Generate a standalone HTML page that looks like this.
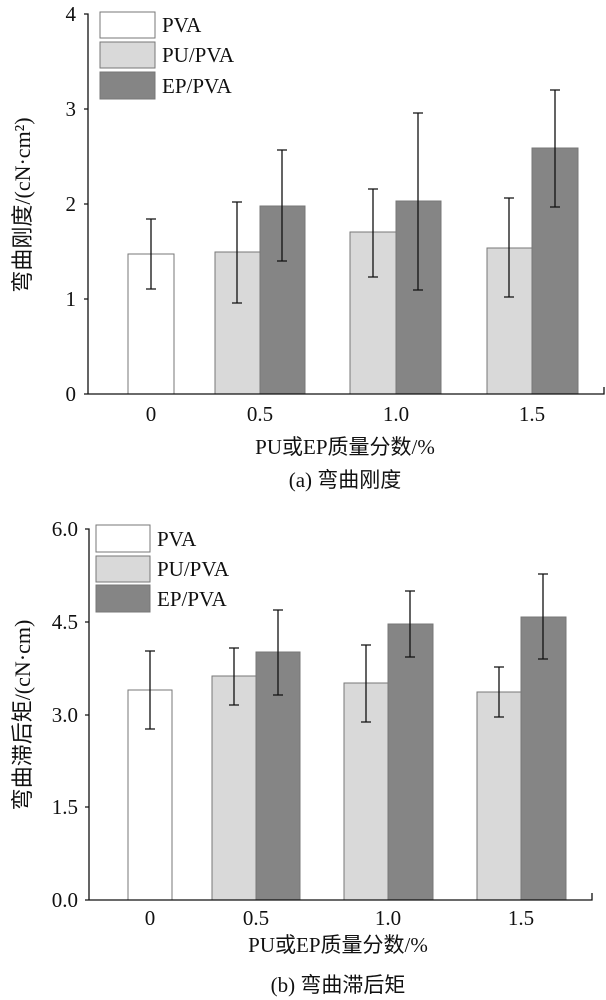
<!DOCTYPE html><html><head><style>body{margin:0;background:#fff}svg{display:block}text{font-family:"Liberation Serif","Noto Sans CJK SC",serif;fill:#111}</style></head><body>
<svg width="606" height="1000" viewBox="0 0 606 1000" xmlns="http://www.w3.org/2000/svg">
<g stroke="#777" stroke-width="1">
<rect x="128" y="254" width="46" height="140" fill="#fff"/>
<rect x="215" y="252" width="45" height="142" fill="#d9d9d9"/>
<rect x="260" y="206" width="45" height="188" fill="#858585"/>
<rect x="350" y="232" width="46" height="162" fill="#d9d9d9"/>
<rect x="396" y="201" width="45" height="193" fill="#858585"/>
<rect x="487" y="248" width="45" height="146" fill="#d9d9d9"/>
<rect x="532" y="148" width="46" height="246" fill="#858585"/>
<rect x="100" y="12" width="55" height="26" fill="#fff"/>
<rect x="100" y="42" width="55" height="26" fill="#d9d9d9"/>
<rect x="100" y="72" width="55" height="27" fill="#858585"/>
<rect x="128" y="690" width="44" height="210" fill="#fff"/>
<rect x="212" y="676" width="44" height="224" fill="#d9d9d9"/>
<rect x="256" y="652" width="44" height="248" fill="#858585"/>
<rect x="344" y="683" width="44" height="217" fill="#d9d9d9"/>
<rect x="388" y="624" width="45" height="276" fill="#858585"/>
<rect x="477" y="692" width="44" height="208" fill="#d9d9d9"/>
<rect x="521" y="617" width="45" height="283" fill="#858585"/>
<rect x="96" y="525" width="54" height="27" fill="#fff"/>
<rect x="96" y="556" width="54" height="26" fill="#d9d9d9"/>
<rect x="96" y="585" width="54" height="27" fill="#858585"/>
</g>
<g stroke="#111" stroke-width="1.3" fill="none">
<path d="M151 219V289M146 219h10M146 289h10"/>
<path d="M237 202V303M232 202h10M232 303h10"/>
<path d="M282 150V261M277 150h10M277 261h10"/>
<path d="M373 189V277M368 189h10M368 277h10"/>
<path d="M418 113V290M413 113h10M413 290h10"/>
<path d="M509 198V297M504 198h10M504 297h10"/>
<path d="M555 90V207M550 90h10M550 207h10"/>
<path d="M150 651V729M145 651h10M145 729h10"/>
<path d="M234 648V705M229 648h10M229 705h10"/>
<path d="M278 610V695M273 610h10M273 695h10"/>
<path d="M366 645V722M361 645h10M361 722h10"/>
<path d="M410 591V657M405 591h10M405 657h10"/>
<path d="M499 667V717M494 667h10M494 717h10"/>
<path d="M543 574V659M538 574h10M538 659h10"/>
<path d="M84 14H88V394H604V387M84 109h4M84 204h4M84 299h4M84 394h4"/>
<path d="M85 529H89V900H592V893M85 622h4M85 715h4M85 807h4M85 900h4"/>
</g>
<g font-size="21" text-anchor="end">
<text x="76" y="21">4</text><text x="76" y="116">3</text><text x="76" y="211">2</text><text x="76" y="306">1</text><text x="76" y="401">0</text>
<text x="78" y="536">6.0</text><text x="78" y="629">4.5</text><text x="78" y="722">3.0</text><text x="78" y="814">1.5</text><text x="78" y="907">0.0</text>
</g>
<g font-size="21" text-anchor="middle">
<text x="151" y="421">0</text><text x="260" y="421">0.5</text><text x="396" y="421">1.0</text><text x="532" y="421">1.5</text>
<text x="150" y="925">0</text><text x="256" y="925">0.5</text><text x="388" y="925">1.0</text><text x="521" y="925">1.5</text>
<text x="345" y="454">PU或EP质量分数/%</text>
<text x="345" y="487">(a) 弯曲刚度</text>
<text x="338" y="952">PU或EP质量分数/%</text>
<text x="338" y="992">(b) 弯曲滞后矩</text>
</g>
<g font-size="22" text-anchor="middle">
<text transform="translate(30,205) rotate(-90)">弯曲刚度/(cN·cm²)</text>
<text transform="translate(30,715) rotate(-90)">弯曲滞后矩/(cN·cm)</text>
</g>
<g font-size="21">
<text x="162" y="32">PVA</text><text x="162" y="62">PU/PVA</text><text x="162" y="93">EP/PVA</text>
<text x="157" y="546">PVA</text><text x="157" y="576">PU/PVA</text><text x="157" y="606">EP/PVA</text>
</g>
</svg></body></html>
